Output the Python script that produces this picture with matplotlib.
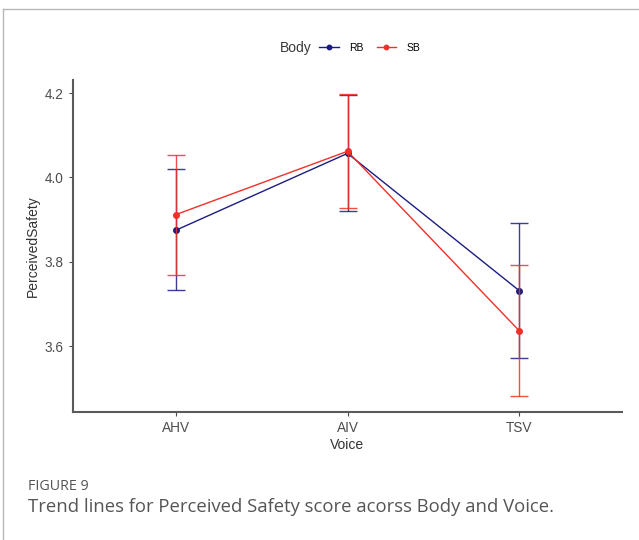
import numpy as np
import matplotlib
matplotlib.use('Agg')
import matplotlib.pyplot as plt
from matplotlib.lines import Line2D

# data
voices = ['AHV', 'AIV', 'TSV']
rb_mean = [3.875, 4.057, 3.732]
rb_low = [3.733, 3.920, 3.573]
rb_high = [4.021, 4.195, 3.891]
sb_mean = [3.912, 4.062, 3.637]
sb_low = [3.769, 3.928, 3.481]
sb_high = [4.054, 4.197, 3.792]
yticks = [3.6, 3.8, 4.0, 4.2]

rb_col = '#1c1c80'
sb_col = '#f0302a'
txt_col = '#4d4d4d'

plt.rcParams['font.family'] = ['Liberation Sans', 'DejaVu Sans']

fig = plt.figure(figsize=(6.39, 5.4), dpi=100)
ax = fig.add_axes([73/639, 1-412/540, (622-73)/639, (412-80)/540])

x = np.arange(len(voices))
handles = []
for mean, low, high, col, lab in [(rb_mean, rb_low, rb_high, rb_col, 'RB'),
                                  (sb_mean, sb_low, sb_high, sb_col, 'SB')]:
    mean = np.array(mean)
    yerr = [mean - np.array(low), np.array(high) - mean]
    ax.errorbar(x, mean, yerr=yerr, fmt='none', ecolor=col, elinewidth=1.0,
                capsize=6.3, capthick=1.0, alpha=0.85)
    h, = ax.plot(x, mean, '-o', color=col, lw=1.0, ms=4, label=lab)
    handles.append(h)

ax.set_xlim(-0.6, 2.6)
ax.set_ylim(3.444, 4.231)
ax.set_xticks(x)
ax.set_xticklabels(voices)
ax.set_yticks(yticks)
ax.set_yticklabels(['%.1f' % v for v in yticks])
ax.tick_params(colors=txt_col, labelsize=9.8, length=3, width=0.8)
for lbl in ax.get_xticklabels() + ax.get_yticklabels():
    lbl.set_color('#4d4d4d')
for s in ['top', 'right']:
    ax.spines[s].set_visible(False)
for s in ['left', 'bottom']:
    ax.spines[s].set_color('#5a5a5a')
    ax.spines[s].set_linewidth(1.5)
ax.set_xlabel('Voice', fontsize=10, color='#333333', labelpad=2)
ax.set_ylabel('PerceivedSafety', fontsize=10, color='#333333', labelpad=4)

# legend on top: title "Body" then the two entries in one row
fig.text(280/639, 1-48/540, 'Body', fontsize=10, color='#3a3a3a',
         ha='left', va='center')
fig.legend(handles=handles, loc='center left', bbox_to_anchor=(319/639, 1-48/540),
           ncol=2, frameon=False, fontsize=7.5, handlelength=1.9,
           handletextpad=1.0, columnspacing=1.25, markerscale=0.8,
           borderpad=0, borderaxespad=0)

# frame of the figure panel
fig.add_artist(Line2D([3/639, 3/639], [0, 1-9/540], color='#b8b8b8', lw=1))
fig.add_artist(Line2D([3/639, 1], [1-9/540, 1-9/540], color='#b8b8b8', lw=1))

fig.text(28/639, 1-487/540, 'FIGURE 9', fontsize=10.3, color='#555555',
         family='Open Sans', va='center')
fig.text(28/639, 1-507/540, 'Trend lines for Perceived Safety score acorss Body and Voice.',
         fontsize=13.3, color='#555555', family='Open Sans', va='center')

fig.savefig('out.png', dpi=100)
